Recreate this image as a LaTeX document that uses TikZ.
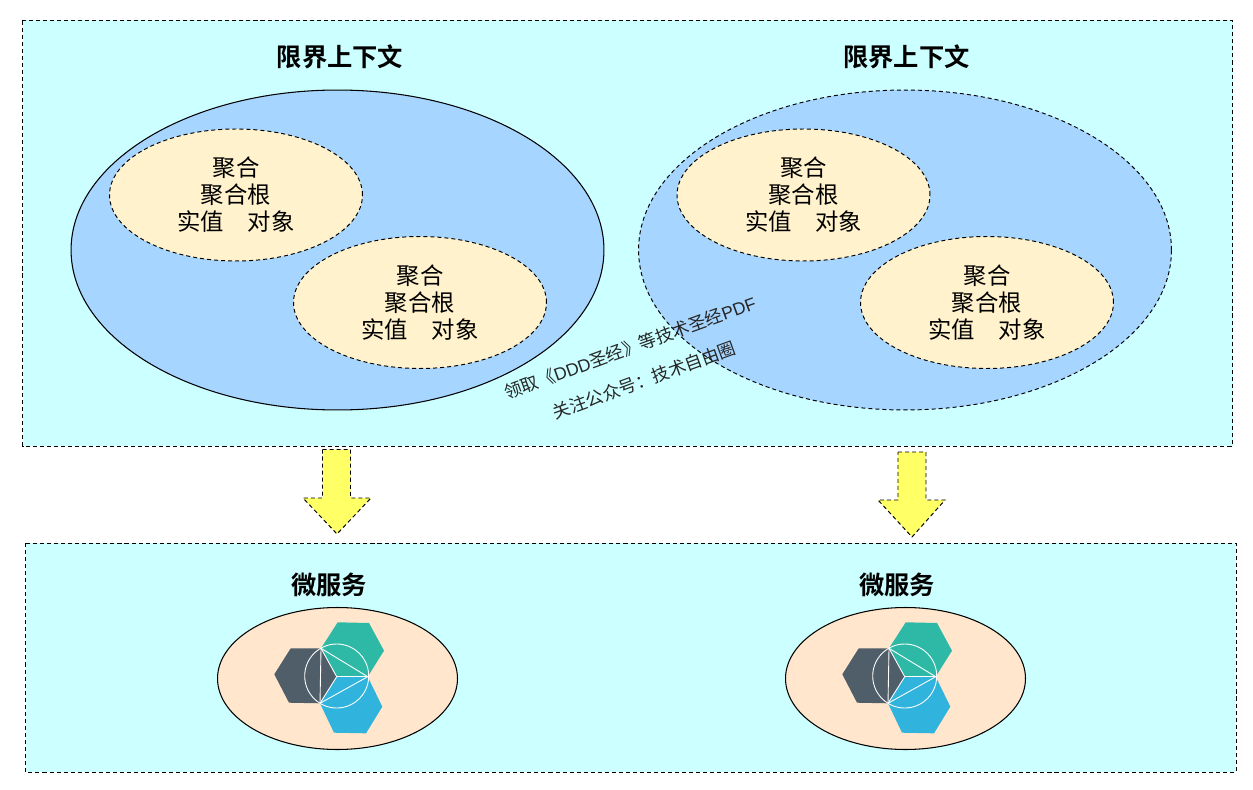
\documentclass[tikz,border=0pt]{standalone}
\usepackage{fontspec}
\newfontfamily\cjk[BoldFont={Noto Sans CJK SC Bold}]{Noto Sans CJK SC}
\newfontfamily\lat{Liberation Sans}
\usepackage{tikz}
\usetikzlibrary{positioning,shapes.geometric}
\definecolor{cpanel}{HTML}{CCFFFF}
\definecolor{cbound}{HTML}{A6D5FF}
\definecolor{cagg}{HTML}{FFF2CC}
\definecolor{csvc}{HTML}{FFE6CC}
\definecolor{carrow}{HTML}{FFFF66}
\definecolor{chexg}{HTML}{2DB9A6}
\definecolor{chexd}{HTML}{4F5E69}
\definecolor{chexb}{HTML}{30B3DC}
\tikzset{
  dashline/.style={line width=0.55pt,dash pattern=on 2.3pt off 1.7pt},
  panel/.style={draw,dashline,fill=cpanel},
  bound/.style={ellipse,draw,line width=0.6pt,fill=cbound,inner sep=0pt,minimum width=10.66cm,minimum height=6.4cm},
  agg/.style={ellipse,draw,dashline,fill=cagg,inner sep=0pt,minimum width=5.06cm,minimum height=2.64cm,align=center,font=\cjk\fontsize{13.3}{15.4}\selectfont},
  svc/.style={ellipse,draw,line width=0.6pt,fill=csvc,inner sep=0pt,minimum width=4.8cm,minimum height=2.84cm},
  ttl/.style={font=\cjk\bfseries\fontsize{14.4}{16}\selectfont,inner sep=0pt},
  wm/.style={font=\cjk\fontsize{10}{12}\selectfont,rotate=20,inner sep=0pt,black!85},
  downarr/.style={draw,dashline,fill=carrow},
  hexline/.style={white,line width=0.5pt},
}
\begin{document}
\begin{tikzpicture}[x=0.02cm,y=-0.02cm]
\useasboundingbox (0,0) rectangle (1253,790);

% ================= panels =================
\draw[panel] (22.5,20.5) rectangle (1232.5,446);
\draw[panel] (25.5,543) rectangle (1236,772);

% ================= bounded contexts =================
\node[bound] (ctxl) at (337.5,250) {};
\node[bound,dashline] (ctxr) at (905,250) {};
\node[ttl] (ctxlt) at (340,57) {限界上下文};
\node[ttl] (ctxrt) at (906.5,57) {限界上下文};

\foreach \n/\x/\y in {la/236/195, lb/420/302.5, ra/803.5/195, rb/987/302.5}{
  \node[agg] (agg\n) at (\x,\y) {聚合\\聚合根\\实值　对象};
}

% watermark
\node[wm] (wma) at (630,348) {领取《{\lat DDD}圣经》等技术圣经{\lat PDF}};
\node[wm] (wmb) at (644,380) {关注公众号：技术自由圈};

% ================= arrows =================
\draw[downarr] (322.5,449.5) -- (350.5,449.5) -- (350.5,498) -- (371,498) -- (337,534) -- (303,498) -- (322.5,498) -- cycle;
\draw[downarr] (898,452) -- (926,452) -- (926,500) -- (945,500) -- (912,537) -- (878,500) -- (898,500) -- cycle;

% ================= microservices =================
\foreach \n/\dx in {l/0, r/568}{
  \node[svc] (svc\n) at (337.5+\dx,678.5) {};
  \node[ttl] (svc\n t) at (329+\dx,585) {微服务};
  \begin{scope}[xshift=\dx*0.02cm]
    \fill[chexg] (337.7,622.3) -- (369,623) -- (384,650.7) -- (367.7,676.7) -- (336.7,676.7) -- (321,648.3) -- cycle;
    \fill[chexd] (290.7,648.3) -- (321,648.3) -- (336.7,676.7) -- (320,703.3) -- (289,702.7) -- (274.3,674.3) -- cycle;
    \fill[chexb] (336.7,676.7) -- (367.7,676.7) -- (382.3,706.7) -- (366,733.3) -- (334,732.7) -- (320,703.3) -- cycle;
    \draw[hexline] (336.7,676) circle (32);
    \draw[hexline] (321,648.3) -- (367.7,676.7) -- (320,703.3) -- cycle;
    \draw[hexline] (321,648.3) -- (336.7,676.7) -- (320,703.3);
    \draw[hexline] (336.7,676.7) -- (367.7,676.7);
  \end{scope}
}
\end{tikzpicture}
\end{document}
